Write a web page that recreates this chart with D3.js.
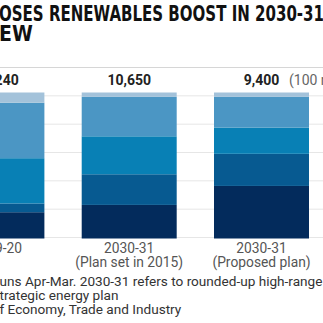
<!DOCTYPE html>
<html>
<head>
<meta charset="utf-8">
<script src="https://cdn.jsdelivr.net/npm/d3@7"></script>
<style>
  html, body { margin: 0; padding: 0; background: #fff; }
  svg { display: block; font-family: Roboto, "Noto Sans", sans-serif; }
</style>
</head>
<body>
<div id="chart"></div>
<script>
// share of power mix, %, bottom to top
const periods = ["2019-20", "2030-31 (Plan set in 2015)", "2030-31 (Proposed plan)"];
const periodLines = [["2019-20"], ["2030-31", "(Plan set in 2015)"], ["2030-31", "(Proposed plan)"]];
const totals = ["10,240", "10,650", "9,400"];
const sources = ["Renewables", "Nuclear", "Coal", "LNG", "Oil, others"];
const renewables = [18, 23, 36];
const nuclear = [6, 21, 22];
const coal = [31, 26, 18];
const lng = [38, 27, 21];
const oil = [7, 3, 3];
const gridTicks = [0, 2000, 4000, 6000, 8000, 10000, 12000];

const colors = ["#032b5c", "#075a91", "#0880b5", "#4b96c4", "#a3c2da"];

const W = 323, H = 323;
const titleFont = "'Liberation Sans Narrow', 'DejaVu Sans Condensed', Roboto, sans-serif";

const svg = d3.select("#chart").append("svg")
    .attr("width", W)
    .attr("height", H);

// title (left part of the page is cropped)
svg.append("text")
    .attr("x", -1).attr("y", 21)
    .attr("font-family", titleFont)
    .attr("font-weight", "bold")
    .attr("font-size", 21)
    .attr("fill", "#111")
    .attr("textLength", 325)
    .attr("lengthAdjust", "spacingAndGlyphs")
    .text("OSES RENEWABLES BOOST IN 2030-31");

svg.append("text")
    .attr("x", -1).attr("y", 41)
    .attr("font-family", titleFont)
    .attr("font-weight", "bold")
    .attr("font-size", 21)
    .attr("fill", "#111")
    .text("EW");

// grid
const gy = d3.scaleLinear([0, 12000], [237.5, 67.5]);

svg.append("g")
    .selectAll("line")
    .data(gridTicks)
    .join("line")
    .attr("x1", 0).attr("x2", W)
    .attr("y1", d => gy(d)).attr("y2", d => gy(d))
    .attr("stroke", d => d === 12000 ? "#d6d6d6" : "#e6e6e6")
    .attr("stroke-width", 1);

// bars
const x = d3.scaleBand(periods, [-50.6, 309]).paddingInner(0.282).paddingOuter(0);
const y = d3.scaleLinear([0, 100], [238.5, 92.5]);

const rows = periods.map((p, i) => ({
    period: p,
    Renewables: renewables[i],
    Nuclear: nuclear[i],
    Coal: coal[i],
    LNG: lng[i],
    "Oil, others": oil[i]
}));

const stacked = d3.stack().keys(sources)(rows);

svg.append("g")
    .selectAll("g")
    .data(stacked)
    .join("g")
    .attr("fill", (d, i) => colors[i])
    .selectAll("rect")
    .data(d => d)
    .join("rect")
    .attr("x", d => x(d.data.period))
    .attr("width", x.bandwidth())
    .attr("y", d => y(d[1]))
    .attr("height", d => y(d[0]) - y(d[1]));

// totals above bars
svg.append("g")
    .selectAll("text")
    .data(periods)
    .join("text")
    .attr("x", d => x(d) + x.bandwidth() / 2)
    .attr("y", 85)
    .attr("text-anchor", "middle")
    .attr("font-weight", "bold")
    .attr("font-size", 14)
    .attr("fill", "#222")
    .text((d, i) => totals[i]);

svg.append("text")
    .attr("x", 289)
    .attr("y", 85)
    .attr("font-size", 14)
    .attr("fill", "#666")
    .text("(100 million kWh)");

// category labels
const cat = svg.append("g")
    .selectAll("text")
    .data(periods)
    .join("text")
    .attr("x", d => x(d) + x.bandwidth() / 2)
    .attr("y", 253)
    .attr("text-anchor", "middle")
    .attr("font-size", 13.8)
    .attr("fill", "#555");

cat.selectAll("tspan")
    .data((d, i) => periodLines[i])
    .join("tspan")
    .attr("x", function() { return this.parentNode.getAttribute("x"); })
    .attr("dy", (d, i) => i === 0 ? 0 : 14)
    .text(d => d);

// footnotes
const notes = [
    "uns Apr-Mar. 2030-31 refers to rounded-up high-range",
    "trategic energy plan",
    "f Economy, Trade and Industry"
];

svg.append("g")
    .selectAll("text")
    .data(notes)
    .join("text")
    .attr("x", -0.5)
    .attr("y", (d, i) => 286 + i * 14)
    .attr("font-size", 13.6)
    .attr("fill", "#333")
    .text(d => d);
</script>
</body>
</html>
